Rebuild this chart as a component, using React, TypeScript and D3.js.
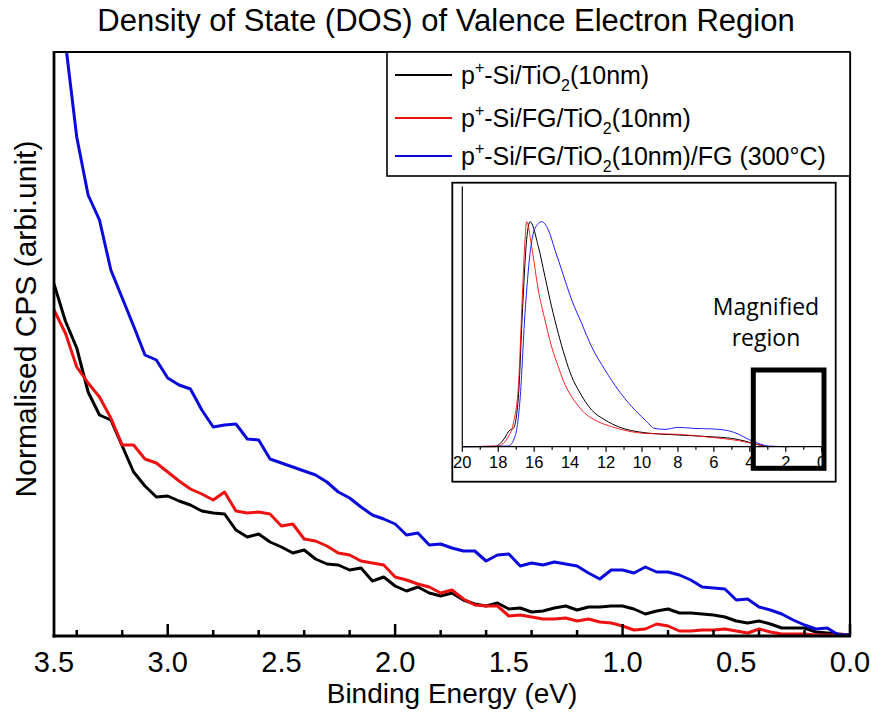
import React from 'react';
import * as d3 from 'd3';

// Binding energy grid (eV) of the magnified valence region
const energy = [
  3.5, 3.45, 3.4, 3.35, 3.3, 3.25, 3.2, 3.15, 3.1, 3.05,
  3.0, 2.95, 2.9, 2.85, 2.8, 2.75, 2.7, 2.65, 2.6, 2.55,
  2.5, 2.45, 2.4, 2.35, 2.3, 2.25, 2.2, 2.15, 2.1, 2.05,
  2.0, 1.95, 1.9, 1.85, 1.8, 1.75, 1.7, 1.65, 1.6, 1.55,
  1.5, 1.45, 1.4, 1.35, 1.3, 1.25, 1.2, 1.15, 1.1, 1.05,
  1.0, 0.95, 0.9, 0.85, 0.8, 0.75, 0.7, 0.65, 0.6, 0.55,
  0.5, 0.45, 0.4, 0.35, 0.3, 0.25, 0.2, 0.15, 0.1, 0.05,
  0.0,
];

// Normalised CPS (arbitrary units)
const siTiO2 = [
  352, 315, 288, 244, 221, 216, 190, 164, 150, 139,
  140, 135, 131, 125, 123, 122, 106, 99, 102, 94,
  89, 83, 86, 77, 72, 71, 66, 68, 55, 59,
  50, 45, 49, 43, 40, 43, 36, 32, 30, 33,
  27, 28, 24, 25, 28, 30, 26, 29, 29, 30,
  30, 27, 22, 25, 27, 23, 23, 22, 21, 19,
  15, 13, 15, 12, 8, 8, 8, 4, 3, 2,
  1,
];
const siFgTiO2 = [
  326, 303, 269, 253, 239, 218, 191, 191, 177, 173,
  164, 155, 147, 142, 136, 144, 125, 123, 124, 122,
  110, 112, 97, 95, 90, 83, 81, 75, 73, 71,
  59, 56, 52, 49, 43, 46, 37, 31, 30, 30,
  20, 21, 19, 17, 17, 18, 15, 17, 14, 13,
  10, 6, 7, 12, 10, 5, 5, 6, 6, 7,
  5, 3, 7, 4, 2, 2, 2, 1, 1, 1,
  1,
];
const siFgTiO2Fg = [
  666, 594, 499, 441, 416, 366, 338, 310, 281, 276,
  258, 251, 247, 226, 209, 211, 212, 197, 196, 177,
  173, 169, 165, 161, 154, 144, 138, 129, 121, 117,
  112, 101, 103, 91, 92, 88, 85, 85, 75, 81,
  82, 70, 73, 71, 74, 72, 70, 63, 57, 66,
  66, 63, 69, 64, 64, 61, 56, 49, 48, 47,
  36, 37, 29, 26, 22, 16, 11, 7, 8, 1,
  1,
];

const xTickLabels = ['3.5', '3.0', '2.5', '2.0', '1.5', '1.0', '0.5', '0.0'];
const xTickValues = [3.5, 3.0, 2.5, 2.0, 1.5, 1.0, 0.5, 0.0];

// Inset: full spectrum (energy, normalised intensity)
const insetBlackE = [20, 18.18, 17.72, 17.35, 17.16, 16.88, 16.66, 16.42, 16.23, 15.77, 15.4, 15.03, 14.66, 14.29, 13.91, 13.54, 12.8, 12.06, 11.32, 9.83, 7.98, 6.12, 5.01, 4.27, 3.71, 3.15];
const insetBlackI = [0, 0, 0.03, 0.074, 0.081, 0.22, 0.59, 0.92, 1.0, 0.89, 0.756, 0.622, 0.504, 0.4, 0.311, 0.252, 0.163, 0.119, 0.089, 0.062, 0.052, 0.044, 0.037, 0.025, 0.012, 0.003];
const insetRedE = [20, 18.0, 17.44, 17.16, 16.88, 16.66, 16.51, 16.42, 16.14, 15.77, 15.4, 15.03, 14.66, 14.29, 13.91, 13.17, 12.43, 11.69, 9.83, 7.98, 6.12, 4.64, 3.9, 3.15];
const insetRedI = [0, 0.004, 0.044, 0.104, 0.267, 0.667, 0.92, 1.0, 0.89, 0.696, 0.563, 0.444, 0.356, 0.277, 0.222, 0.148, 0.111, 0.089, 0.059, 0.055, 0.041, 0.027, 0.015, 0.003];
const insetBlueE = [20, 17.44, 17.07, 16.79, 16.51, 16.23, 15.96, 15.58, 15.21, 14.84, 14.47, 13.91, 13.36, 12.8, 12.06, 11.32, 10.57, 9.83, 9.28, 8.72, 7.98, 7.05, 6.12, 5.19, 4.64, 4.08, 3.53, 2.97, 1.86];
const insetBlueI = [0, 0.003, 0.044, 0.207, 0.593, 0.859, 0.97, 1.0, 0.963, 0.874, 0.785, 0.652, 0.548, 0.444, 0.341, 0.252, 0.178, 0.119, 0.081, 0.077, 0.086, 0.081, 0.079, 0.071, 0.056, 0.033, 0.015, 0.003, 0];
const insetTickLabels = [20, 18, 16, 14, 12, 10, 8, 6, 4, 2, 0];

const FONT = '"Liberation Sans", Arial, sans-serif';

export default function App() {
  const W = 871;
  const H = 713;
  const L = 54, R = 850, T = 52, B = 636;
  const x = d3.scaleLinear().domain([3.5, 0]).range([L, R]);
  const y = d3.scaleLinear().domain([0, 584]).range([B, T]);
  const mainLine = (vals: number[]) =>
    d3.line<number>().x((_, i) => x(energy[i])).y((d) => y(d))(vals) || '';

  const minorTicks = x.ticks(14);

  // inset scales
  const ix = d3.scaleLinear().domain([20, 0]).range([462.3, 821.7]);
  const iy = d3.scaleLinear().domain([0, 1]).range([446.7, 221.7]);
  const insetLine = (es: number[], is: number[]) =>
    d3.line<number>().x((_, i) => ix(es[i])).y((d) => iy(d)).curve(d3.curveMonotoneX)(is) || '';
  const insetTicks = ix.ticks(20);

  const series = [
    { vals: siTiO2, color: '#000000' },
    { vals: siFgTiO2, color: '#ee1111' },
    { vals: siFgTiO2Fg, color: '#0a0adc' },
  ];

  const legendY = [84, 127, 165];

  return (
    <svg width={W} height={H} style={{ position: 'absolute', left: 0, top: 0, background: '#fff' }} fontFamily={FONT}>
      <rect x={0} y={0} width={W} height={H} fill="#fff" />
      <defs>
        <clipPath id="plotClip">
          <rect x={L} y={T} width={R - L} height={B - T} />
        </clipPath>
      </defs>

      {/* Title */}
      <text x={446} y={31} fontSize={31} textAnchor="middle" fill="#000">
        Density of State (DOS) of Valence Electron Region
      </text>

      {/* main curves */}
      <g clipPath="url(#plotClip)">
        {series.map((s, i) => (
          <path key={i} d={mainLine(s.vals)} fill="none" stroke={s.color} strokeWidth={3} strokeLinejoin="round" />
        ))}
      </g>

      {/* frame */}
      <line x1={L} y1={T} x2={R} y2={T} stroke="#000" strokeWidth={2} />
      <line x1={R} y1={T} x2={R} y2={B} stroke="#000" strokeWidth={2.2} />
      <line x1={L} y1={T - 1} x2={L} y2={B + 1.5} stroke="#000" strokeWidth={2.8} />
      <line x1={L - 1.4} y1={B} x2={R + 1} y2={B} stroke="#000" strokeWidth={3} />

      {/* x ticks */}
      {minorTicks.map((t, i) => {
        const major = Math.abs(t * 2 - Math.round(t * 2)) < 1e-6;
        return (
          <line key={i} x1={x(t)} x2={x(t)} y1={B} y2={B - (major ? 12 : 6)} stroke="#000" strokeWidth={2.5} />
        );
      })}
      {xTickValues.map((v, i) => (
        <text key={i} x={x(v)} y={672} fontSize={29} textAnchor="middle" fill="#000">
          {xTickLabels[i]}
        </text>
      ))}
      <text x={452} y={703} fontSize={28} textAnchor="middle" fill="#000">
        Binding Energy (eV)
      </text>
      <text transform="translate(36,319) rotate(-90)" fontSize={30} textAnchor="middle" fill="#000">
        Normalised CPS (arbi.unit)
      </text>

      {/* legend */}
      <rect x={387} y={52} width={R - 387} height={124} fill="#fff" stroke="#000" strokeWidth={1.6} />
      {series.map((s, i) => (
        <line key={i} x1={395} x2={452} y1={legendY[i] - 9} y2={legendY[i] - 9} stroke={s.color} strokeWidth={2.2} />
      ))}
      <text x={461} y={legendY[0]} fontSize={25} fill="#000">
        <tspan>p</tspan>
        <tspan fontSize={16} dy={-11}>+</tspan>
        <tspan dy={11}>-Si/TiO</tspan>
        <tspan fontSize={16} dy={7}>2</tspan>
        <tspan dy={-7}>(10nm)</tspan>
      </text>
      <text x={461} y={legendY[1]} fontSize={25} fill="#000">
        <tspan>p</tspan>
        <tspan fontSize={16} dy={-11}>+</tspan>
        <tspan dy={11}>-Si/FG/TiO</tspan>
        <tspan fontSize={16} dy={7}>2</tspan>
        <tspan dy={-7}>(10nm)</tspan>
      </text>
      <text x={461} y={legendY[2]} fontSize={25} fill="#000">
        <tspan>p</tspan>
        <tspan fontSize={16} dy={-11}>+</tspan>
        <tspan dy={11}>-Si/FG/TiO</tspan>
        <tspan fontSize={16} dy={7}>2</tspan>
        <tspan dy={-7}>(10nm)/FG (300°C)</tspan>
      </text>

      {/* inset */}
      <rect x={452.3} y={182.7} width={383.4} height={299} fill="#fff" stroke="#000" strokeWidth={1.8} />
      <path d={insetLine(insetBlackE, insetBlackI)} fill="none" stroke="#000" strokeWidth={1} />
      <path d={insetLine(insetRedE, insetRedI)} fill="none" stroke="#ff0000" strokeOpacity={0.85} strokeWidth={1} />
      <path d={insetLine(insetBlueE, insetBlueI)} fill="none" stroke="#2020ff" strokeWidth={1} />
      <line x1={462.3} x2={462.3} y1={186.5} y2={446.7} stroke="#000" strokeWidth={1.2} />
      <line x1={462.3} x2={821.7} y1={446.7} y2={446.7} stroke="#000" strokeWidth={1.2} />
      {insetTicks.map((t, i) => (
        <line key={i} x1={ix(t)} x2={ix(t)} y1={446.7} y2={446.7 + (t % 2 === 0 ? 5 : 3)} stroke="#000" strokeWidth={1.2} />
      ))}
      {insetTickLabels.map((v, i) => (
        <text key={i} x={ix(v)} y={468.3} fontSize={16.5} textAnchor="middle" fill="#000">
          {v}
        </text>
      ))}
      <text x={766} y={314.5} fontSize={23} textAnchor="middle" fontFamily='"Open Sans", "Noto Sans", sans-serif' fill="#000">
        Magnified
      </text>
      <text x={766} y={345.5} fontSize={23} textAnchor="middle" fontFamily='"Open Sans", "Noto Sans", sans-serif' fill="#000">
        region
      </text>
      <rect x={753.3} y={370} width={70.7} height={98.3} fill="none" stroke="#000" strokeWidth={5} />
    </svg>
  );
}
